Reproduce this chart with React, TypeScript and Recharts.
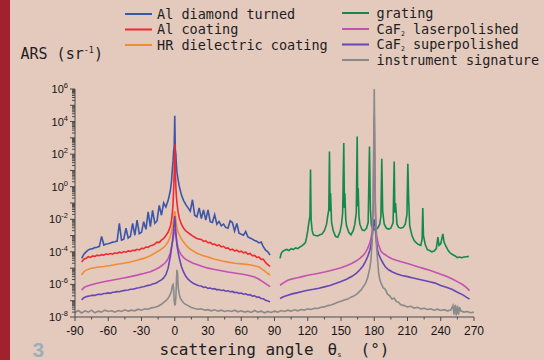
import React from "react";
import { LineChart, Line, XAxis, YAxis } from "recharts";

// ---------- angle grids (degrees) ----------
const leftA = [
  -84, -82, -80, -78, -76, -74, -72, -70, -68, -66,
  -64, -62, -60, -58, -56, -54, -52, -50, -48, -46,
  -44, -42, -40, -38, -36, -34, -32, -30, -28, -26,
  -24, -22, -20, -18, -16, -14, -12, -10, -8, -6,
  -4,
  -3, -2, -1.5, -1, -0.5, 0, 0.5, 1, 1.5, 2, 3,
  4, 6, 8, 10, 12, 14, 16, 18, 20, 22,
  24, 26, 28, 30, 32, 34, 36, 38, 40, 42,
  44, 46, 48, 50, 52, 54, 56, 58, 60, 62,
  64, 66, 68, 70, 72, 74, 76, 78, 80, 82,
  84, 86,
];

const leftS = [
  -84, -82, -80, -76, -70, -64, -58, -52, -46, -40,
  -34, -28, -22, -18, -14, -10, -8, -6, -4, -3,
  -2, -1, -0.5, 0, 0.5, 1, 2, 3, 4, 6,
  8, 10, 13, 16, 20, 25, 30, 36, 42, 48,
  54, 60, 66, 72, 76, 80, 83, 86,
];

const rightS = [
  95, 98, 102, 106, 110, 115, 120, 125, 130, 135,
  140, 145, 150, 155, 160, 164, 167, 170, 172, 174,
  176, 177, 178, 179, 180, 181, 182, 183, 184, 186,
  188, 190, 193, 196, 200, 205, 210, 215, 220, 225,
  230, 235, 240, 245, 250, 255, 260, 263, 266,
];

// ---------- series values (log10 of ARS in sr^-1) ----------
const alDiamondLog = [
  -4.40, -4.15, -4.00, -3.88, -3.82, -3.80, -3.74, -3.72, -3.66, -3.05,
  -3.58, -3.52, -3.50, -3.46, -3.40, -3.38, -3.34, -2.25, -3.28, -3.22,
  -2.55, -3.15, -3.05, -2.25, -2.98, -2.05, -2.88, -2.80, -2.15, -2.62,
  -1.55, -2.45, -1.45, -2.25, -2.10, -1.15, -1.75, -1.00, -1.25, -0.85,
  -0.25,
  0.30, 1.20, 1.60, 2.20, 2.50, 4.35, 2.30, 2.00, 1.30, 0.90, 0.45,
  0.05, -0.50, -0.85, -1.10, -1.30, -1.50, -0.80, -1.75, -1.85, -1.30,
  -1.95, -1.42, -2.05, -1.42, -2.15, -2.20, -1.72, -2.30, -2.13, -2.40,
  -2.30, -2.50, -2.55, -2.10, -2.20, -2.72, -2.25, -2.85, -2.92, -2.98,
  -2.75, -3.08, -3.15, -3.22, -3.30, -3.35, -3.45, -3.40, -3.70, -3.90,
  -4.00, -4.20,
];

const alCoatingLog = [
  -4.62, -4.45, -4.40, -4.30, -4.34, -4.25, -4.28, -4.20, -4.24, -4.17,
  -4.20, -4.12, -4.16, -4.10, -4.14, -4.06, -4.10, -4.02, -4.06, -3.98,
  -4.02, -3.94, -3.97, -3.90, -3.92, -3.84, -3.88, -3.78, -3.80, -3.70,
  -3.72, -3.62, -3.60, -3.52, -3.40, -3.42, -3.28, -3.18, -3.00, -2.80,
  -2.45,
  -2.10, -1.50, -1.00, -0.20, 0.80, 2.60, 1.00, 0.00, -0.60, -1.00, -1.55,
  -1.90, -2.30, -2.55, -2.72, -2.82, -2.92, -3.02, -3.10, -3.18, -3.22,
  -3.24, -3.36, -3.32, -3.44, -3.42, -3.54, -3.52, -3.62, -3.58, -3.70,
  -3.66, -3.78, -3.76, -3.88, -3.84, -3.94, -3.90, -4.00, -3.96, -4.06,
  -4.02, -4.14, -4.10, -4.24, -4.22, -4.34, -4.32, -4.46, -4.46, -4.66,
  -4.78, -4.90,
];

const hrDielectricLog = [
  -5.42, -5.22, -5.12, -5.02, -4.95, -4.90, -4.84, -4.76, -4.70, -4.62,
  -4.52, -4.40, -4.24, -4.08, -3.92, -3.72, -3.58, -3.38, -3.05, -2.80,
  -2.45, -2.00, -1.70, -1.50, -1.70, -2.00, -2.50, -2.80, -2.95, -3.20,
  -3.40, -3.58, -3.78, -3.92, -4.08, -4.22, -4.32, -4.45, -4.55, -4.63,
  -4.70, -4.74, -4.78, -4.85, -4.93, -5.12, -5.28, -5.42,
];

const caf2LaserLeftLog = [
  -6.35, -6.20, -6.12, -6.03, -5.93, -5.84, -5.76, -5.68, -5.60, -5.52,
  -5.43, -5.33, -5.22, -5.10, -4.96, -4.76, -4.62, -4.42, -4.05, -3.75,
  -3.40, -3.00, -2.80, -2.60, -2.80, -3.00, -3.45, -3.75, -3.95, -4.20,
  -4.35, -4.46, -4.58, -4.68, -4.78, -4.90, -5.00, -5.08, -5.16, -5.24,
  -5.30, -5.36, -5.44, -5.55, -5.68, -5.86, -6.00, -6.14,
];

const caf2LaserRightLog = [
  -6.05, -5.90, -5.74, -5.66, -5.60, -5.52, -5.44, -5.38, -5.31, -5.24,
  -5.16, -5.07, -4.97, -4.85, -4.70, -4.55, -4.40, -4.22, -4.05, -3.80,
  -3.45, -3.20, -2.80, -1.50, 4.30, -1.60, -2.90, -3.30, -3.60, -3.95,
  -4.10, -4.18, -4.32, -4.42, -4.52, -4.62, -4.72, -4.82, -4.93, -5.03,
  -5.13, -5.25, -5.37, -5.50, -5.65, -5.83, -6.02, -6.18, -6.38,
];

const caf2SuperLeftLog = [
  -6.95, -6.82, -6.76, -6.72, -6.70, -6.66, -6.68, -6.62, -6.60, -6.62,
  -6.56, -6.55, -6.52, -6.54, -6.48, -6.47, -6.44, -6.45, -6.40, -6.38,
  -6.36, -6.34, -6.30, -6.30, -6.26, -6.22, -6.20, -6.16, -6.14, -6.10,
  -6.06, -6.04, -5.98, -5.94, -5.88, -5.80, -5.72, -5.60, -5.40, -5.00,
  -4.30,
  -3.80, -3.30, -3.00, -2.60, -2.20, -1.80, -2.30, -2.80, -3.20, -3.60, -4.00,
  -4.35, -4.90, -5.25, -5.50, -5.68, -5.80, -5.90, -5.98, -6.04, -6.08,
  -6.10, -6.18, -6.16, -6.24, -6.22, -6.28, -6.26, -6.33, -6.31, -6.37,
  -6.35, -6.42, -6.39, -6.45, -6.43, -6.50, -6.48, -6.55, -6.53, -6.60,
  -6.58, -6.65, -6.63, -6.72, -6.70, -6.78, -6.77, -6.86, -6.88, -6.98,
  -7.02, -7.06,
];

const caf2SuperRightLog = [
  -6.86, -6.76, -6.66, -6.58, -6.52, -6.44, -6.36, -6.30, -6.23, -6.15,
  -6.06, -5.95, -5.82, -5.68, -5.50, -5.30, -5.10, -4.85, -4.60, -4.30,
  -3.90, -3.60, -3.20, -2.50, -2.00, -2.60, -3.40, -3.90, -4.15, -4.45,
  -4.70, -4.92, -5.10, -5.22, -5.35, -5.45, -5.52, -5.60, -5.68, -5.76,
  -5.84, -5.92, -6.06, -6.18, -6.30, -6.48, -6.64, -6.78, -6.90,
];

const gratingA = [
  95, 96, 97, 99, 101, 103, 105, 107, 109, 111,
  113, 115, 117, 118, 119, 120, 121, 122, 122.5, 123,
  124, 125, 127, 129, 131, 133, 135, 137, 138, 139,
  139.6, 140.2, 140.6, 141.5, 143, 145, 147, 149, 150.5, 151.5,
  152.5, 153.1, 153.5, 154.3, 155, 157, 159, 161, 162.5, 163.8,
  164.6, 165.1, 165.5, 166.2, 167, 169, 171, 173, 174.5, 175.7,
  176.5, 177.5, 179, 181, 183, 185, 186, 186.8, 187.6, 189,
  191, 193, 195, 197, 198, 198.6, 199.2, 200.5, 202, 204,
  206, 208, 209.5, 210.3, 211, 212, 214, 216, 218, 220,
  222, 223.2, 223.8, 224.4, 226, 228, 230, 232, 234, 236,
  237.4, 238.4, 240, 241.9, 243, 245, 247, 249, 251, 253,
  255, 257, 259, 261, 263, 265.3,
];

const gratingLog = [
  -4.40, -4.10, -4.00, -3.90, -3.85, -3.92, -3.80, -3.86, -3.76, -3.80,
  -3.70, -3.62, -3.50, -3.40, -3.10, -2.70, -2.20, -1.80, 1.05, -2.00,
  -2.70, -2.95, -3.00, -3.02, -2.95, -2.90, -2.70, -2.30, -1.80, -1.40,
  2.16, -1.50, -0.40, -2.20, -2.70, -3.05, -3.10, -2.80, -2.30, -1.60,
  2.68, -1.30, -0.40, -2.00, -2.40, -2.80, -2.95, -2.70, -2.30, -1.60,
  3.09, -1.20, -0.10, -1.80, -2.30, -2.65, -2.70, -2.55, -2.20, 2.47,
  -1.40, -2.40, -2.60, -2.65, -2.55, -2.30, -1.80, 1.71, -1.52, -2.30,
  -2.55, -2.60, -2.55, -2.20, 1.55, -1.60, -1.00, -2.30, -2.50, -2.55,
  -2.50, -2.30, -1.70, 1.41, -0.70, -2.40, -3.00, -3.30, -3.45, -3.55,
  -3.60, -3.20, -1.31, -3.00, -3.55, -3.87, -3.92, -4.00, -3.95, -3.80,
  -3.10, -3.60, -3.50, -2.90, -3.40, -3.70, -3.95, -4.10, -4.18, -4.25,
  -4.35, -4.32, -4.36, -4.32, -4.30, -4.28,
];

const instrumentA = [
  -90, -87, -84, -81, -78, -75, -72, -69, -66, -63,
  -60, -57, -54, -51, -48, -45, -42, -39, -36, -33,
  -30, -27, -24, -21, -18, -15, -12, -10, -8, -6,
  -4, -3, -2, -1.5, -1, -0.5, 0, 0.5, 1, 1.5,
  2, 2.5, 3, 4, 5, 7, 9, 12, 15, 18,
  21, 24, 27, 30, 33, 36, 39, 42, 45, 48,
  51, 54, 57, 60, 63, 66, 69, 72, 75, 78,
  81, 84, 87, 90, 93, 96, 99, 102, 105, 108,
  111, 114, 117, 120, 123, 126, 129, 132, 135, 138,
  141, 144, 147, 150, 153, 156, 159, 162, 165, 168,
  170, 172, 174, 176, 177, 178, 179, 180, 181, 182,
  183, 184, 185, 186, 188, 190, 192, 194, 196, 198,
  200, 202, 204, 207, 210, 213, 216, 219, 222, 225,
  228, 231, 234, 237, 240, 243, 246, 249, 251, 252,
  253, 254, 255, 256, 257, 258, 261, 264, 267, 270,
];

const instrumentLog = [
  -7.72, -7.60, -7.75, -7.62, -7.70, -7.58, -7.74, -7.64, -7.70, -7.58,
  -7.66, -7.62, -7.70, -7.60, -7.66, -7.56, -7.64, -7.58, -7.62, -7.52,
  -7.58, -7.50, -7.52, -7.44, -7.40, -7.34, -7.22, -7.10, -7.00, -6.85,
  -6.60, -6.40, -6.05, -6.00, -6.30, -7.00, -7.25, -7.25, -6.80, -5.80,
  -5.10, -5.30, -6.10, -6.60, -6.85, -7.05, -7.20, -7.30, -7.42, -7.48,
  -7.52, -7.50, -7.58, -7.55, -7.62, -7.56, -7.64, -7.58, -7.66, -7.60,
  -7.66, -7.58, -7.68, -7.62, -7.70, -7.64, -7.72, -7.60, -7.70, -7.64,
  -7.74, -7.66, -7.72, -7.64, -7.70, -7.60, -7.66, -7.58, -7.64, -7.56,
  -7.62, -7.54, -7.58, -7.50, -7.54, -7.46, -7.48, -7.40, -7.38, -7.30,
  -7.26, -7.18, -7.10, -7.04, -6.96, -6.90, -6.78, -6.70, -6.55, -6.35,
  -6.15, -5.95, -5.60, -5.00, -4.50, -3.50, -1.00, 6.00, -1.00, -3.60,
  -4.50, -5.30, -5.70, -5.90, -6.20, -6.30, -6.60, -6.70, -6.90, -6.85,
  -7.05, -7.10, -7.25, -7.30, -7.38, -7.34, -7.45, -7.40, -7.50, -7.46,
  -7.54, -7.50, -7.58, -7.52, -7.60, -7.55, -7.62, -7.58, -7.30, -7.85,
  -7.25, -7.90, -7.30, -7.85, -7.40, -7.62, -7.70, -7.66, -7.74, -7.70,
];

// ---------- axis ticks ----------
const xTickValues = [-90, -75, -60, -45, -30, -15, 0, 15, 30, 45, 60, 75, 90, 105, 120, 135, 150, 165, 180, 195, 210, 225, 240, 255, 270];
const xLabelStep = 30;
const yMinExp = -8;
const yMaxExp = 6;

const yTickValues: number[] = [];
for (let e = yMinExp; e < yMaxExp; e++) {
  for (let m = 1; m < 10; m++) yTickValues.push(m * Math.pow(10, e));
}
yTickValues.push(Math.pow(10, yMaxExp));

// ---------- build rows ----------
type Row = { a: number; v: number | null };
const toRows = (angles: number[], logs: number[]): Row[] =>
  angles.map((a, i) => ({ a, v: Math.pow(10, logs[i]) }));
const gap: Row[] = [{ a: 90, v: null }];

const series = [
  { name: "Al diamond turned", color: "#3b56a9", data: toRows(leftA, alDiamondLog) },
  { name: "Al coating", color: "#ee2b2f", data: toRows(leftA, alCoatingLog) },
  { name: "HR dielectric coating", color: "#f28c34", data: toRows(leftS, hrDielectricLog) },
  { name: "grating", color: "#148a4a", data: toRows(gratingA, gratingLog) },
  {
    name: "CaF2 laserpolished",
    color: "#c452b2",
    data: [...toRows(leftS, caf2LaserLeftLog), ...gap, ...toRows(rightS, caf2LaserRightLog)],
  },
  {
    name: "CaF2 superpolished",
    color: "#6747b4",
    data: [...toRows(leftA, caf2SuperLeftLog), ...gap, ...toRows(rightS, caf2SuperRightLog)],
  },
  { name: "instrument signature", color: "#8a8a8a", data: toRows(instrumentA, instrumentLog) },
];

const AXIS = "#4a4a4a";
const MONO = "'DejaVu Sans Mono', monospace";
const SANS = "'Liberation Sans', Arial, sans-serif";

const XTick = (props: any) => {
  const { x, y, payload } = props;
  const v = payload.value;
  const major = v % xLabelStep === 0;
  return (
    <g>
      <line x1={x} x2={x} y1={y} y2={y + (major ? 4 : 2.5)} stroke={AXIS} strokeWidth={1} />
      {major && (
        <text x={x} y={y + 18} textAnchor="middle" fontFamily={SANS} fontSize={12} fill="#141414">
          {v}
        </text>
      )}
    </g>
  );
};

const YTick = (props: any) => {
  const { x, y, payload } = props;
  const lg = Math.log10(payload.value);
  const r = Math.round(lg);
  const decade = Math.abs(lg - r) < 1e-6;
  return (
    <g>
      <line x1={x - (decade ? 5 : 3)} x2={x} y1={y} y2={y} stroke={AXIS} strokeWidth={1} />
      {decade && r % 2 === 0 && (
        <text x={x - 7} y={y + 4} textAnchor="end" fontFamily={SANS} fontSize={11} fill="#141414">
          10
          <tspan dy={-5} fontSize={7.5}>
            {r}
          </tspan>
        </text>
      )}
    </g>
  );
};

const LegendName = ({ name }: { name: string }) => {
  if (name.startsWith("CaF2")) {
    return (
      <>
        CaF
        <tspan dy={2} fontSize={6.5}>
          2
        </tspan>
        <tspan dy={-2}>{name.slice(4)}</tspan>
      </>
    );
  }
  return <>{name}</>;
};

const legendCols = [
  { lineX: 125, textX: 157, rows: [14, 29.5, 45], items: [0, 1, 2] },
  { lineX: 342, textX: 376.5, rows: [13, 29, 44.5, 60], items: [3, 4, 5, 6] },
];

export default function App() {
  return (
    <div
      style={{
        position: "fixed",
        left: 0,
        top: 0,
        width: 544,
        height: 360,
        background: "#e4c9bd",
        overflow: "hidden",
      }}
    >
      <div style={{ position: "absolute", left: 0, top: 0, width: 10, height: 360, background: "#a0222f" }} />
      <div style={{ position: "absolute", left: 0, top: 0 }}>
        <LineChart width={544} height={360} margin={{ top: 89, right: 70, bottom: 0, left: 0 }}>
          <XAxis
            type="number"
            dataKey="a"
            domain={[-90, 270]}
            ticks={xTickValues}
            interval={0}
            tick={(p: any) => <XTick {...p} />}
            tickLine={false}
            tickSize={0}
            tickMargin={0}
            height={43}
            axisLine={{ stroke: AXIS }}
            allowDataOverflow
          />
          <YAxis
            type="number"
            scale="log"
            domain={[1e-8, 1e6]}
            ticks={yTickValues}
            interval={0}
            tick={(p: any) => <YTick {...p} />}
            tickLine={false}
            tickSize={0}
            tickMargin={0}
            width={75}
            axisLine={{ stroke: AXIS }}
            allowDataOverflow
          />
          {series.map((s) => (
            <Line
              key={s.name}
              data={s.data}
              dataKey="v"
              type="linear"
              stroke={s.color}
              strokeWidth={1.6}
              dot={false}
              activeDot={false}
              isAnimationActive={false}
              connectNulls={false}
            />
          ))}
        </LineChart>
      </div>
      <svg
        width={544}
        height={360}
        style={{ position: "absolute", left: 0, top: 0, pointerEvents: "none" }}
      >
        {legendCols.map((col, ci) =>
          col.items.map((si, ri) => {
            const s = series[si];
            const y = col.rows[ri];
            return (
              <g key={`${ci}-${ri}`}>
                <line x1={col.lineX} x2={col.lineX + 27} y1={y} y2={y} stroke={s.color} strokeWidth={2} />
                <text x={col.textX} y={y + 4.5} fontFamily={MONO} fontSize={13.5} fill="#1e1e1e">
                  <LegendName name={s.name} />
                </text>
              </g>
            );
          })
        )}
        <text x={20.5} y={59} fontFamily={MONO} fontSize={15} fill="#1e1e1e">
          ARS (sr
          <tspan dy={-6} fontSize={8.5}>
            -1
          </tspan>
          <tspan dy={6}>)</tspan>
        </text>
        <text x={159.5} y={355} fontFamily={MONO} fontSize={16} fill="#1e1e1e">
          scattering angle
        </text>
        <text x={327.5} y={355} fontFamily={MONO} fontSize={16} fill="#1e1e1e">
          θ
          <tspan dy={2} fontSize={7}>
            s
          </tspan>
        </text>
        <text x={360.5} y={355} fontFamily={MONO} fontSize={16} fill="#1e1e1e">
          (°)
        </text>
        <text x={32.5} y={357} fontFamily={SANS} fontWeight="bold" fontSize={21} fill="#9db0b9">
          3
        </text>
      </svg>
    </div>
  );
}
